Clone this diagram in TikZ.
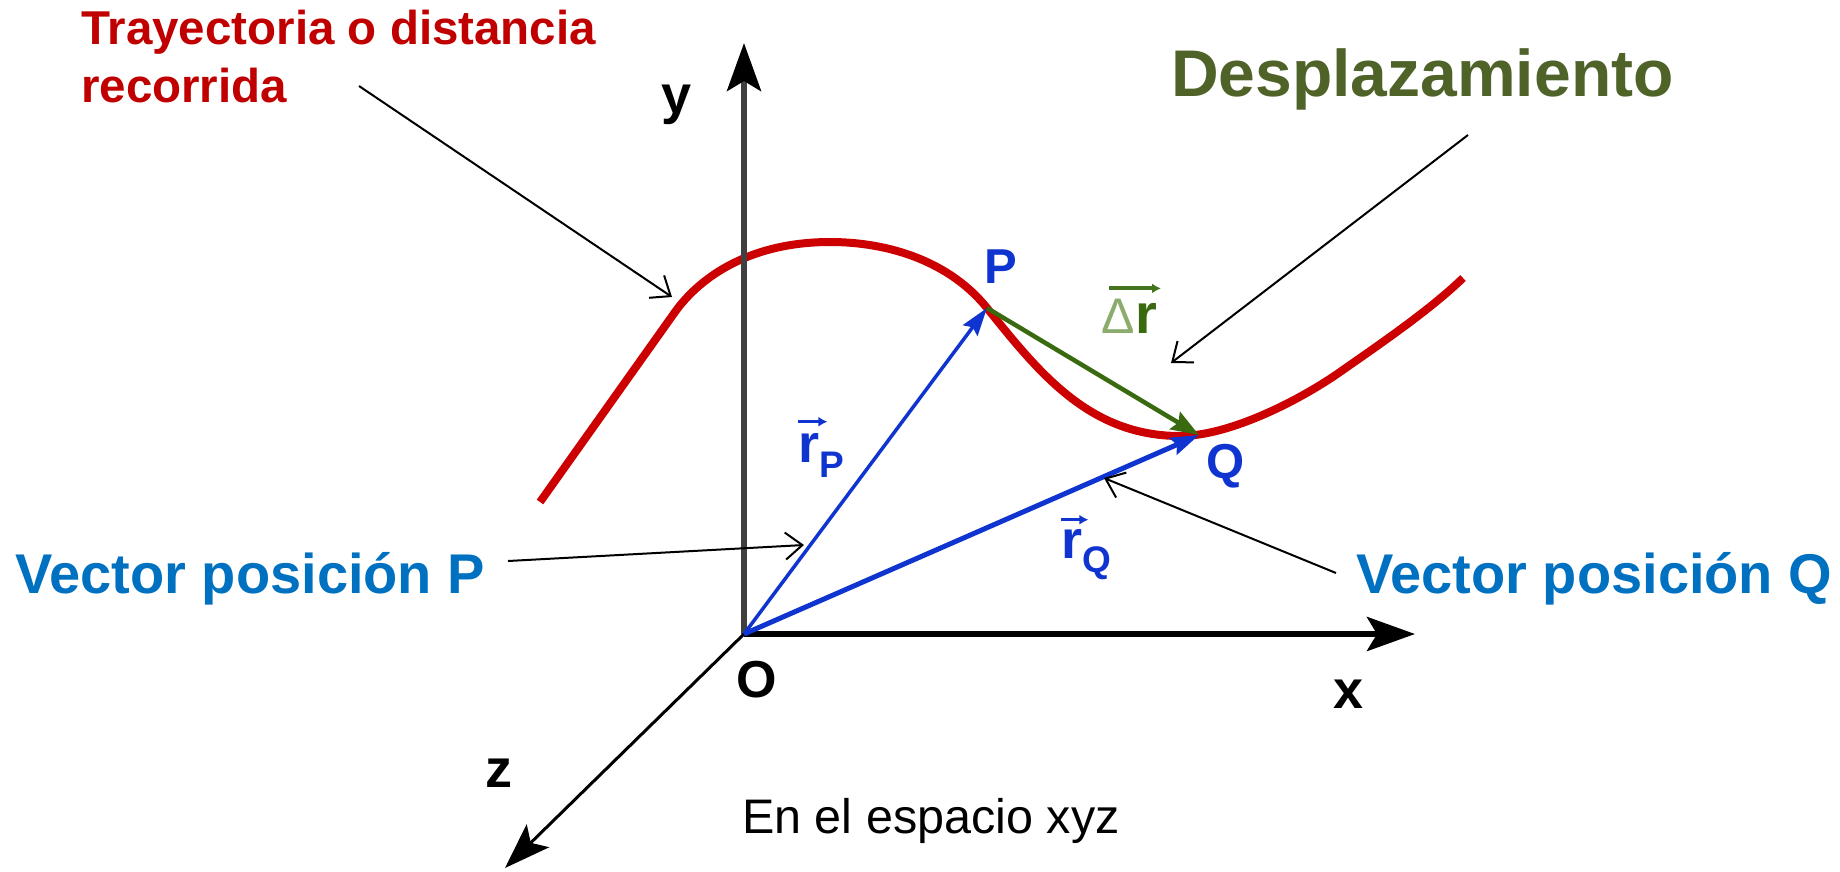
\documentclass[tikz,border=0pt]{standalone}
\usepackage{fontspec}
\setmainfont{Liberation Sans}
\usetikzlibrary{arrows.meta}
\definecolor{trajred}{RGB}{192,0,0}
\definecolor{curvered}{RGB}{204,0,0}
\definecolor{vecblue}{RGB}{16,52,208}
\definecolor{txtblue}{RGB}{0,112,192}
\definecolor{despgreen}{RGB}{79,98,40}
\definecolor{dgreen}{RGB}{58,106,16}
\definecolor{lgreen}{RGB}{140,172,110}
\definecolor{axisgray}{RGB}{64,64,64}
\begin{document}
\begin{tikzpicture}[x=1pt,y=-1pt,
  callout/.style={draw=black, line width=2pt, -{Straight Barb[length=17pt,width=27pt]}},
  axishead/.style={-{Stealth[length=48pt,width=34pt,inset=10pt,color=black]}},
  curve/.style={draw=curvered, line width=8pt},
  bvec/.style={draw=vecblue, -{Stealth[length=28pt,width=18pt,inset=4pt]}},
  gvec/.style={draw=dgreen, line width=4.5pt, -{Stealth[length=28pt,width=20pt,inset=4pt]}},
  overarr/.style={line width=3pt, -{Latex[length=9pt,width=10pt]}},
  axlbl/.style={font=\fontsize{54}{60}\selectfont\bfseries, inner sep=0pt},
  ptlbl/.style={font=\fontsize{49}{56}\selectfont\bfseries, text=vecblue, inner sep=0pt},
  rlbl/.style={font=\fontsize{54}{60}\selectfont\bfseries, text=vecblue, inner sep=0pt},
  sublbl/.style={font=\fontsize{37}{44}\selectfont\bfseries, text=vecblue, inner sep=0pt},
  vpos/.style={font=\fontsize{56}{64}\selectfont\bfseries, text=txtblue, inner sep=0pt},
]
\useasboundingbox (0,0) rectangle (1840,871);

% key points
\coordinate (O) at (744,634);
\coordinate (yend) at (744,43);
\coordinate (xend) at (1415,634);
\coordinate (zend) at (505,868);
\coordinate (P) at (987,308);
\coordinate (Q) at (1199,435);

% trajectory
\draw[curve] (540,502) -- (675,312)
  .. controls (700,277) and (750,242) .. (830,242)
  .. controls (890,242) and (950,262) .. (P)
  .. controls (1040,374) and (1090,436) .. (1180,436)
  .. controls (1230,436) and (1300,400) .. (1340,372)
  .. controls (1380,344) and (1430,310) .. (1463,278);

% axes
\draw[draw=axisgray, line width=6pt, axishead] (O) -- (yend);
\draw[draw=black, line width=6pt, axishead] (O) -- (xend);
\draw[draw=black, line width=3pt, -{Stealth[length=46pt,width=32pt,inset=10pt]}] (O) -- (zend);

% vectors
\draw[bvec, line width=3.5pt] (O) -- (P);
\draw[bvec, line width=5pt] (O) -- (Q);
\draw[gvec] (P) -- (Q);

% axis labels
\node[axlbl, anchor=base] (ylbl) at (677,113) {y};
\node[axlbl, anchor=base] (xlbl) at (1349,708) {x};
\node[axlbl, anchor=base] (zlbl) at (499,787) {z};
\node[font=\fontsize{52}{60}\selectfont\bfseries, inner sep=0pt, anchor=base] (Olbl) at (757,697) {O};

% point labels
\node[ptlbl, anchor=base west] (Plbl) at (984,283) {P};
\node[ptlbl, anchor=base west] (Qlbl) at (1206,478) {Q};

% r_P
\node[rlbl, anchor=base west] (rP) at (798,462) {r};
\node[sublbl, anchor=base west] (rPs) at ([yshift=-15pt]rP.base east) {P};
\draw[overarr, vecblue] ([yshift=11pt]rP.north west) -- ([xshift=8pt,yshift=11pt]rP.north east);

% r_Q
\node[rlbl, anchor=base west] (rQ) at (1061,558) {r};
\node[sublbl, anchor=base west] (rQs) at ([yshift=-14pt]rQ.base east) {Q};
\draw[overarr, vecblue] ([yshift=9pt]rQ.north west) -- ([xshift=6pt,yshift=9pt]rQ.north east);

% Delta r
\node[font=\fontsize{50}{58}\selectfont, text=lgreen, inner sep=0pt, anchor=base west] (Dlt) at (1101,333) {Δ};
\node[font=\fontsize{56}{62}\selectfont\bfseries, text=dgreen, inner sep=0pt, anchor=base west] (Dr) at (Dlt.base east) {r};
\coordinate (da1) at ([xshift=8pt,yshift=10pt]Dlt.north west);
\coordinate (da2) at (da1 -| Dr.east);
\draw[overarr, draw=dgreen!85!lgreen, line width=4pt] (da1) -- ([xshift=4pt]da2);

% texts
\node[font=\fontsize{47.5}{58}\selectfont\bfseries, text=trajred, align=left, anchor=north west, inner sep=0pt] (traj) at (81,10) {Trayectoria o distancia\\recorrida};
\node[font=\fontsize{66}{79}\selectfont\bfseries, text=despgreen, anchor=base west, inner sep=0pt] (desp) at (1171,96) {Desplazamiento};
\node[vpos, anchor=base west] (vpP) at (15,593) {Vector posición P};
\node[vpos, anchor=base west] (vpQ) at (1356,593) {Vector posición Q};
\node[font=\fontsize{48.5}{58}\selectfont, inner sep=0pt, anchor=base west] (cap) at (742,833) {En el espacio xyz};

% callouts
\coordinate (trajtail) at (359,86);
\coordinate (trajtip) at (672,297);
\coordinate (desptail) at (1468,135);
\coordinate (desptip) at (1171,363);
\coordinate (vpPtail) at (508,561);
\coordinate (vpPtip) at (804,545);
\coordinate (vpQtail) at (1336,573);
\coordinate (vpQtip) at (1104,478);
\draw[callout] (trajtail) -- (trajtip);
\draw[callout] (desptail) -- (desptip);
\draw[callout] (vpPtail) -- (vpPtip);
\draw[callout] (vpQtail) -- (vpQtip);
\end{tikzpicture}
\end{document}
